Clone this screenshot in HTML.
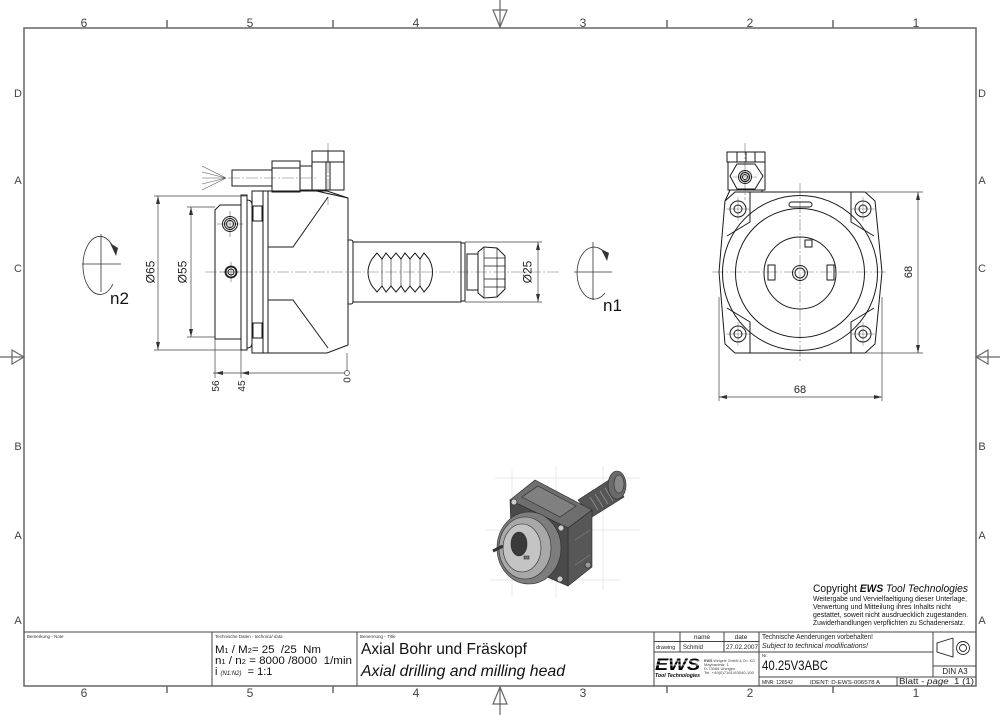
<!DOCTYPE html>
<html><head><meta charset="utf-8">
<style>
html,body{margin:0;padding:0;background:#fff;}
svg{display:block;}
text{font-family:"Liberation Sans",sans-serif;}
</style></head><body>
<svg width="1000" height="715" viewBox="0 0 1000 715" xmlns="http://www.w3.org/2000/svg">
<rect width="1000" height="715" fill="#fff"/>

<!-- FRAME -->
<g stroke="#666" fill="none" stroke-width="1.5">
<rect x="24" y="28" width="952" height="658"/>
<path d="M167,20V28 M333,20V28 M667,20V28 M833,20V28"/>
<path d="M167,686V693 M333,686V693 M667,686V693 M833,686V693"/>
<path d="M500,0V28 M500,686V715 M0,357H24 M976,357H1000" stroke-width="1.2"/>
<polygon points="493,10 507,10 500,27" stroke-width="1.2"/>
<polygon points="493,704 507,704 500,687" stroke-width="1.2"/>
<polygon points="12,350 12,364 24,357" stroke-width="1.2"/>
<polygon points="988,350 988,364 976,357" stroke-width="1.2"/>
</g>
<g font-size="12" fill="#444" text-anchor="middle">
<text x="84" y="27">6</text><text x="250" y="27">5</text><text x="416" y="27">4</text>
<text x="583" y="27">3</text><text x="750" y="27">2</text><text x="916" y="27">1</text>
<text x="84" y="697">6</text><text x="250" y="697">5</text><text x="416" y="697">4</text>
<text x="583" y="697">3</text><text x="750" y="697">2</text><text x="916" y="697">1</text>
</g>
<g font-size="11" fill="#444" text-anchor="middle">
<text x="18" y="97">D</text><text x="18" y="184">A</text><text x="18" y="272">C</text>
<text x="18" y="450">B</text><text x="18" y="539">A</text><text x="18" y="624">A</text>
<text x="982" y="97">D</text><text x="982" y="184">A</text><text x="982" y="272">C</text>
<text x="982" y="450">B</text><text x="982" y="539">A</text><text x="982" y="624">A</text>
</g>

<!-- SIDE VIEW -->
<!-- centerlines -->
<g stroke="#777" stroke-width="0.6" fill="none" stroke-dasharray="12,2,2,2">
<path d="M205,272H560"/>
<path d="M228,178H318"/>
<path d="M328,143V205"/>
</g>
<g stroke="#666" stroke-width="0.6" fill="none">
<path d="M217,224H243 M230,211V237 M220,272H241 M231,262V282"/>
</g>
<!-- n2 symbol -->
<g stroke="#333" stroke-width="0.8" fill="none">
<path d="M82,264H121 M101,234V292"/>
<path d="M113,284 A17,29 0 1 1 112,245"/>
</g>
<polygon points="110,243 118,248 116,256" fill="#333"/>
<text x="110" y="304" font-size="17" fill="#111">n2</text>

<!-- dimensions side -->
<g stroke="#444" stroke-width="0.7" fill="none">
<path d="M154,196H247 M154,350H247 M158,196V350"/>
<path d="M187,207H215 M187,337H215 M191,207V337"/>
<path d="M465,242H542 M465,302H542 M538,242V302"/>
<path d="M347,353V371 M215,339V378 M241,350V378 M213,373H345"/>
</g>
<g fill="#333">
<polygon points="158,196 156,204 160,204"/><polygon points="158,350 156,342 160,342"/>
<polygon points="191,207 189,215 193,215"/><polygon points="191,337 189,329 193,329"/>
<polygon points="538,242 536,250 540,250"/><polygon points="538,302 536,294 540,294"/>
<polygon points="215,373 223,371 223,375"/><polygon points="241,373 249,371 249,375"/>
</g>
<circle cx="347" cy="373" r="2.5" fill="none" stroke="#444" stroke-width="0.7"/>
<g font-size="12" fill="#222" text-anchor="middle">
<text transform="translate(154.5,272) rotate(-90)">Ø65</text>
<text transform="translate(186.5,272) rotate(-90)">Ø55</text>
<text transform="translate(531.5,272) rotate(-90)">Ø25</text>
</g>
<g font-size="10" fill="#222" text-anchor="middle">
<text transform="translate(219,386) rotate(-90)">56</text>
<text transform="translate(245,386) rotate(-90)">45</text>
<text transform="translate(350.5,380) rotate(-90)">0</text>
</g>

<g fill="none" stroke="#1a1a1a" stroke-width="1">
<!-- flange -->
<path d="M215,339V210L220,205H241V339Z"/>
<rect x="241" y="195" width="6" height="155"/>
<path d="M247,200Q252,200 252,205V343Q252,348 247,348"/>
<!-- body -->
<path d="M252,191H327L348,198V345L327,353H252Z"/>
<path d="M263,191V353 M268,191V353"/>
<rect x="253" y="206" width="9" height="15"/>
<rect x="253" y="323" width="9" height="15"/>
<path d="M268,247H293L328,197 M268,300H293L328,348"/>
<!-- screws -->
<circle cx="230" cy="224" r="7.5"/><circle cx="230" cy="224" r="5.5"/><circle cx="230" cy="224" r="3.5"/>
<circle cx="231" cy="272" r="5.5" stroke-width="1.8"/><circle cx="231" cy="272" r="3"/>
<!-- connector -->
<rect x="232" y="170" width="40" height="16"/>
<rect x="272" y="161" width="28" height="31"/>
<path d="M272,168H300"/>
<rect x="300" y="166" width="12" height="24"/>
<rect x="312" y="151" width="32" height="39"/>
<path d="M312,162H344 M328,151V162 M326,162V190 M330,162V190 M312,190L348,198"/>
<!-- shaft -->
<path d="M348,240H351Q353,240 353,243V301Q353,304 351,304H348"/>
<rect x="353" y="242" width="108" height="60"/>
<rect x="461" y="243" width="4" height="58"/>
<path d="M372,259L377,253L382,259L386,253L391,259L396,253L401,259L405,253L410,259L415,253L420,259L424,253L429,259Q436,272 429,286L424,292L420,286L415,292L410,286L405,292L401,286L396,292L391,286L386,292L382,286L377,292L372,286Q364,272 372,259Z"/>
<path d="M382,259V286 M391,259V286 M401,259V286 M410,259V286 M420,259V286" stroke-width="0.6"/>
<rect x="467" y="254" width="11" height="36"/>
<polygon points="478,252 484,247 497,248 505,256 505,289 497,297 484,298 478,293"/>
<path d="M484,247V298 M497,248V297 M484,258H505 M484,266H505 M484,279H505 M484,287H505" stroke-width="0.7"/>
</g>
<g stroke="#555" stroke-width="0.6">
<path d="M226,178L202,166 M226,178L202,172 M226,178L202,178 M226,178L202,184 M226,178L202,190"/>
</g>

<!-- FRONT VIEW -->
<g stroke="#777" stroke-width="0.6" fill="none" stroke-dasharray="12,2,2,2">
<path d="M800,183V363"/>
<path d="M712,272H886"/>
<path d="M745,143V200"/>
</g>
<g stroke="#777" stroke-width="0.5" fill="none">
<path d="M726,209H750 M738,197V221 M851,209H875 M863,197V221 M726,334H750 M738,322V346 M851,334H875 M863,322V346 M733,177H757"/>
</g>
<!-- n1 symbol -->
<g stroke="#333" stroke-width="0.8" fill="none">
<path d="M574,272H612 M593,242V300"/>
<path d="M605,293 A17,26 0 1 1 604,252"/>
</g>
<polygon points="601,249 609,253 607,261" fill="#333"/>
<text x="603" y="311" font-size="17" fill="#111">n1</text>

<g fill="none" stroke="#1a1a1a" stroke-width="1">
<polygon points="735,192 865,192 875,201 882,272 875,344 865,353 735,353 725,344 719,272 725,201"/>
<path d="M750,192V222L727,236 M851,192V222L874,236 M750,353V322L727,308 M851,353V322L874,308"/>
<circle cx="738" cy="209" r="8"/><circle cx="738" cy="209" r="4"/>
<circle cx="863" cy="209" r="8"/><circle cx="863" cy="209" r="4"/>
<circle cx="738" cy="334" r="8"/><circle cx="738" cy="334" r="4"/>
<circle cx="863" cy="334" r="8"/><circle cx="863" cy="334" r="4"/>
<circle cx="800" cy="273" r="77.5"/>
<circle cx="800" cy="273" r="64.5"/>
<circle cx="800" cy="273" r="36"/>
<circle cx="800" cy="273" r="7.5"/><circle cx="800" cy="273" r="5"/>
<rect x="768" y="265" width="7" height="15"/>
<rect x="827" y="265" width="7" height="15"/>
<rect x="805" y="240" width="7" height="7"/>
<rect x="789" y="202" width="23" height="5" rx="2.5"/>
<!-- connector -->
<rect x="727" y="152" width="38" height="10"/>
<path d="M737,152V162 M746,152V162 M755,152V162"/>
<rect x="728" y="162" width="37" height="28"/>
<polygon points="737,164 755,164 763,176 755,189 737,189 730,176"/>
<circle cx="745" cy="177" r="6.5"/><circle cx="745" cy="177" r="4.5" stroke-width="1.3"/><circle cx="745" cy="177" r="2.5"/>
<path d="M730,190L725,201 M762,190V192"/>
</g>
<!-- front dims -->
<g stroke="#444" stroke-width="0.7" fill="none">
<path d="M719,297V401 M882,297V401 M719,397H882"/>
<path d="M866,192H923 M866,353H923 M918,192V353"/>
</g>
<g fill="#333">
<polygon points="719,397 727,395 727,399"/><polygon points="882,397 874,395 874,399"/>
<polygon points="918,192 916,200 920,200"/><polygon points="918,353 916,345 920,345"/>
</g>
<text x="800" y="393" font-size="11" fill="#222" text-anchor="middle">68</text>
<text transform="translate(912,272) rotate(-90)" font-size="11" fill="#222" text-anchor="middle">68</text>

<!-- 3D RENDER -->
<g stroke="#e8e8e8" stroke-width="1" fill="none">
<path d="M495,478H640 M485,530H640 M490,580H620 M512,470V598 M556,466V598 M603,466V590"/>
</g>
<g stroke="#2a2a2a" stroke-width="0.6">
<polygon points="578,500 612,478 624,497 592,517" fill="#555"/>
<path d="M590,497L598,510 M595,494L603,507 M600,491L608,504 M605,488L613,501" stroke="#aaa"/>
<ellipse cx="617" cy="485" rx="9" ry="14" fill="#6a6a6a"/>
<ellipse cx="619" cy="484" rx="5" ry="9" fill="#888"/>
<polygon points="510,500 535,480 592,510 568,528" fill="#6e6e6e"/>
<polygon points="522,497 538,486 576,506 560,517" fill="#808080"/>
<polygon points="568,528 592,510 592,567 568,586" fill="#575757"/>
<polygon points="510,500 568,528 568,586 512,562" fill="#4a4a4a"/>
<path d="M575,540L590,530 M575,565L590,555" stroke="#888"/>
<ellipse cx="529" cy="548" rx="32" ry="36" fill="#7d7d7d"/>
<ellipse cx="525" cy="548" rx="26" ry="31" fill="#a8a8a8"/>
<ellipse cx="522" cy="548" rx="19" ry="24" fill="#c4c4c4"/>
<ellipse cx="519" cy="544" rx="8" ry="12" fill="#3a3a3a"/>
<path d="M493,551L503,546" stroke="#333" stroke-width="3"/>
<circle cx="514" cy="502" r="3" fill="#ccc"/>
<circle cx="561" cy="528" r="3" fill="#ccc"/>
<circle cx="560" cy="579" r="3" fill="#ccc"/>
<circle cx="588" cy="565" r="3" fill="#999"/>
<rect x="524" y="556" width="5" height="3" fill="#777"/>
</g>

<!-- COPYRIGHT -->
<text x="813" y="592" font-size="11" fill="#111" textLength="155" lengthAdjust="spacingAndGlyphs">Copyright <tspan font-weight="bold" font-style="italic">EWS</tspan><tspan font-style="italic"> Tool Technologies</tspan></text>
<g font-size="7.5" fill="#111">
<text x="813" y="601" textLength="154" lengthAdjust="spacingAndGlyphs">Weitergabe und Vervielfaeltigung dieser Unterlage,</text>
<text x="813" y="609" textLength="138" lengthAdjust="spacingAndGlyphs">Verwertung und Mitteilung ihres Inhalts nicht</text>
<text x="813" y="617" textLength="155" lengthAdjust="spacingAndGlyphs">gestattet, soweit nicht ausdruecklich zugestanden.</text>
<text x="813" y="625" textLength="152" lengthAdjust="spacingAndGlyphs">Zuwiderhandlungen verpflichten zu Schadenersatz.</text>
</g>

<!-- TITLE BLOCK -->
<g stroke="#444" stroke-width="1" fill="none">
<path d="M24,632H976"/>
<path d="M212,632V686 M357,632V686 M654,632V686 M759,632V686 M933,632V677"/>
<path d="M654,641.5H759 M654,652H933 M680,632V652 M724,632V652"/>
<path d="M759,677H976 M933,666H976 M897,677V686"/>
</g>
<g font-size="4.5" fill="#333">
<text x="27" y="638">Bemerkung - Note</text>
<text x="215" y="638">Technische Daten - <tspan font-style="italic">technical data</tspan></text>
<text x="360" y="638">Benennung - <tspan font-style="italic">Title</tspan></text>
<text x="762" y="657">Nr.</text>
</g>
<g fill="#111">
<text x="215" y="653" font-size="11" textLength="106" lengthAdjust="spacingAndGlyphs">M<tspan font-size="7">1</tspan> / M<tspan font-size="7">2</tspan>= 25 &#160;/25 &#160;Nm</text>
<text x="215" y="664" font-size="11" textLength="137" lengthAdjust="spacingAndGlyphs">n<tspan font-size="7">1</tspan> / n<tspan font-size="7">2</tspan> = 8000 /8000 &#160;1/min</text>
<text x="215" y="675" font-size="11">i <tspan font-size="6" font-style="italic">(N1:N2)</tspan> &#160;= 1:1</text>
<text x="361" y="654" font-size="16" textLength="166" lengthAdjust="spacingAndGlyphs">Axial Bohr und Fräskopf</text>
<text x="361" y="676" font-size="16" font-style="italic" textLength="204" lengthAdjust="spacingAndGlyphs">Axial drilling and milling head</text>
</g>
<g font-size="6.5" fill="#222">
<text x="702" y="639" text-anchor="middle">name</text>
<text x="741" y="639" text-anchor="middle">date</text>
<text x="656" y="649" font-size="5.5">drawing</text>
<text x="683" y="649" font-size="6">Schmid</text>
<text x="726" y="649" font-size="6" textLength="32" lengthAdjust="spacingAndGlyphs">27.02.2007</text>
<text x="762" y="639" font-size="7" textLength="111" lengthAdjust="spacingAndGlyphs">Technische Aenderungen vorbehalten!</text>
<text x="762" y="648" font-size="7" font-style="italic" textLength="106" lengthAdjust="spacingAndGlyphs">Subject to technical modifications!</text>
<text x="762" y="670" font-size="14" fill="#111" textLength="66" lengthAdjust="spacingAndGlyphs">40.25V3ABC</text>
<text x="762" y="684" font-size="5">MNR: 126542</text>
<text x="810" y="684" font-size="5" textLength="70" lengthAdjust="spacingAndGlyphs">IDENT: D-EWS-006578 A</text>
<text x="899" y="684" font-size="8" textLength="75" lengthAdjust="spacingAndGlyphs">Blatt - <tspan font-style="italic">page</tspan> &#160;1 (1)</text>
<text x="955" y="674" font-size="8" text-anchor="middle">DIN A3</text>
</g>
<!-- EWS logo -->
<text x="655" y="670" font-size="17" font-weight="bold" font-style="italic" fill="#000" textLength="45" lengthAdjust="spacingAndGlyphs">EWS</text>
<path d="M655,661H702 M655,665H702" stroke="#fff" stroke-width="0.8"/>
<text x="655" y="677" font-size="5.5" font-weight="bold" font-style="italic" fill="#000" textLength="45" lengthAdjust="spacingAndGlyphs">Tool Technologies</text>
<g font-size="4" fill="#444">
<text x="704" y="662" textLength="51" lengthAdjust="spacingAndGlyphs"><tspan font-weight="bold">EWS</tspan> Weigele GmbH &amp; Co. KG</text>
<text x="704" y="666">Maybachstr. 1</text>
<text x="704" y="670">D-73066 Uhingen</text>
<text x="704" y="674" textLength="50" lengthAdjust="spacingAndGlyphs">Tel. +49(0)7161/93040-100</text>
</g>
<!-- projection symbol -->
<g fill="none" stroke="#222" stroke-width="0.9">
<path d="M953,638L937,643V652L953,657V638"/>
<circle cx="963" cy="648" r="6.5"/>
<circle cx="963" cy="648" r="3.5"/>
</g>
</svg>
</body></html>
